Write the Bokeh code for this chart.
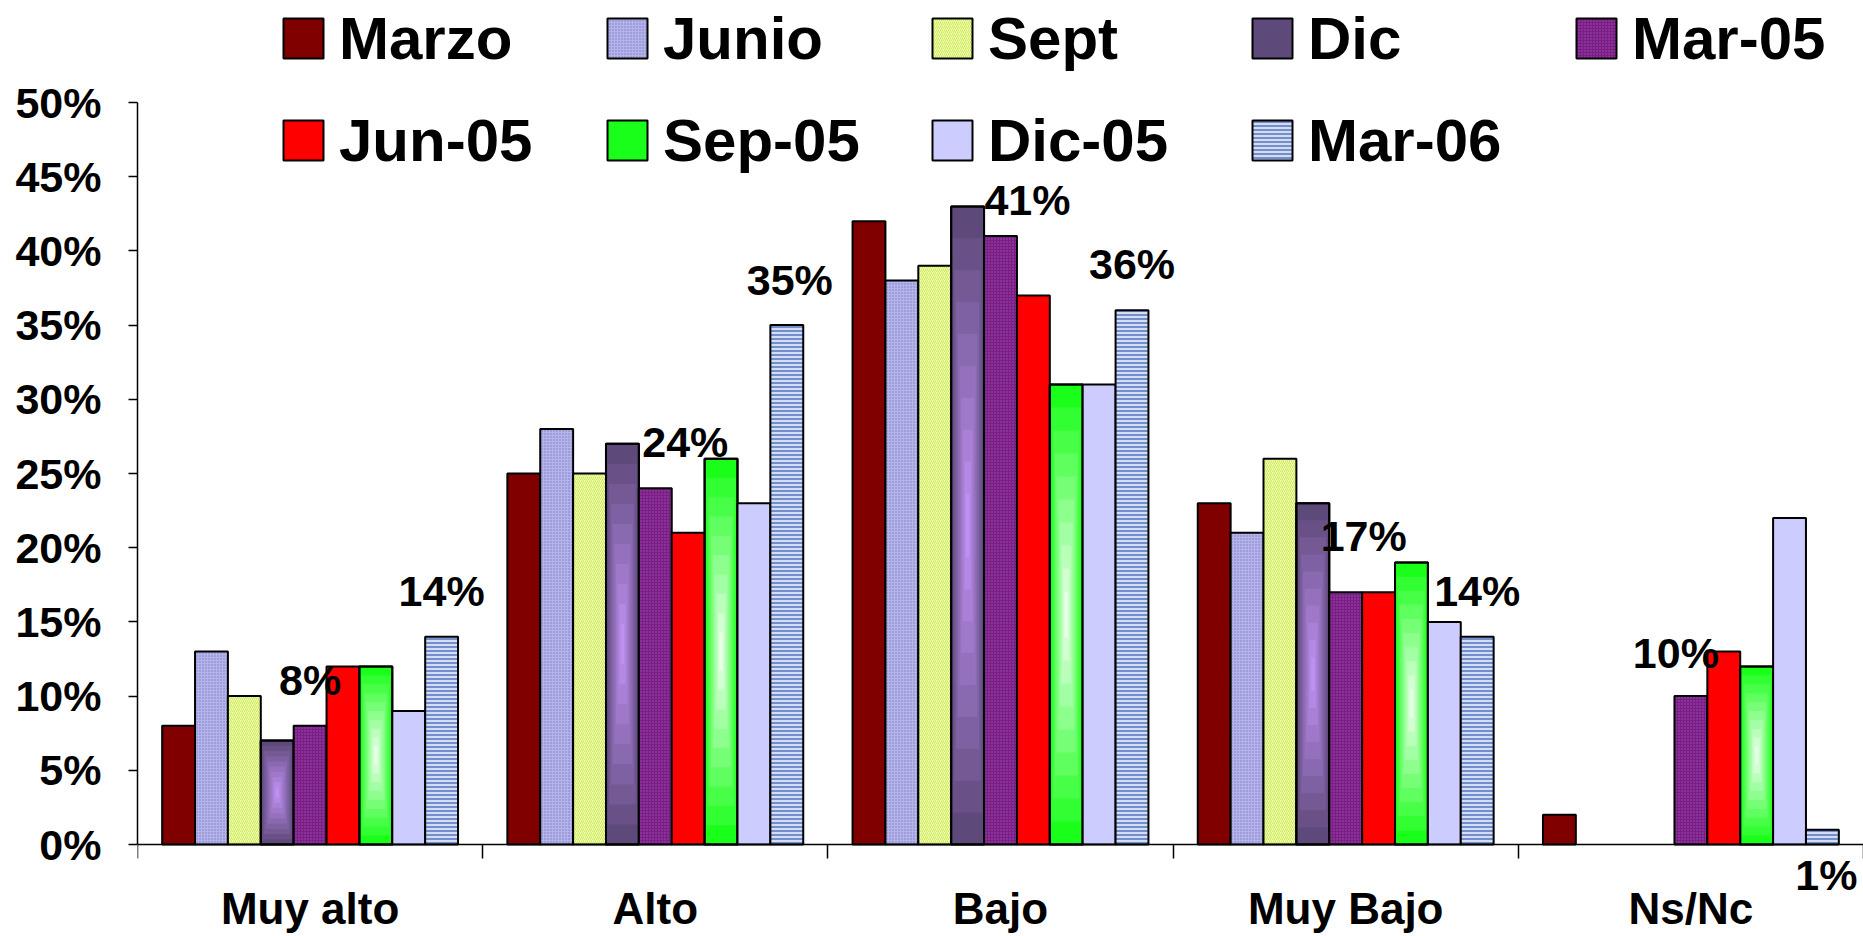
import numpy as np
from bokeh.plotting import figure
from bokeh.models import (ColumnDataSource, Range1d, LinearAxis, FixedTicker, PrintfTickFormatter,
                          Legend, LegendItem, LabelSet)
from bokeh.core.properties import value
from bokeh.embed import file_html
from bokeh.resources import INLINE

# ---------------- data ----------------
categories = ["Muy alto", "Alto", "Bajo", "Muy Bajo", "Ns/Nc"]
series_names = ["Marzo", "Junio", "Sept", "Dic", "Mar-05", "Jun-05", "Sep-05", "Dic-05", "Mar-06"]
marzo = [8, 25, 42, 23, 2]
junio = [13, 28, 38, 21, None]
sept = [10, 25, 39, 26, None]
dic = [7, 27, 43, 23, None]
mar05 = [8, 24, 41, 17, 10]
jun05 = [12, 21, 37, 17, 13]
sep05 = [12, 26, 31, 19, 12]
dic05 = [9, 23, 31, 15, 22]
mar06 = [14, 35, 36, 14, 1]
y_ticks = [0, 5, 10, 15, 20, 25, 30, 35, 40, 45, 50]
labelled_series = ["Mar-05", "Mar-06"]

series_values = [marzo, junio, sept, dic, mar05, jun05, sep05, dic05, mar06]

# ---------------- styles / layout ----------------
FONT = value("Liberation Sans")
styles = {
    "Marzo": dict(fill_color="#800000"),
    "Junio": dict(fill_color="#B4B4EA", hatch_pattern="dot", hatch_color="#7A7AC8", hatch_scale=3, hatch_weight=1),
    "Sept": dict(fill_color="#F4FFAE", hatch_pattern="right_diagonal_line", hatch_color="#C8E860", hatch_scale=4, hatch_weight=1),
    "Dic": dict(fill_color="#5E497B"),
    "Mar-05": dict(fill_color="#7A1E86", hatch_pattern="dot", hatch_color="#A050B4", hatch_scale=3, hatch_weight=1),
    "Jun-05": dict(fill_color="#FF0000"),
    "Sep-05": dict(fill_color="#1AFF1A"),
    "Dic-05": dict(fill_color="#CCCCFF"),
    "Mar-06": dict(fill_color="#D2DCF4", hatch_pattern="horizontal_line", hatch_color="#5274BE", hatch_scale=4, hatch_weight=1.5),
}
gradients = {"Dic": ("#5E497B", "#CA98FF"), "Sep-05": ("#1AFF1A", "#FFFFFF")}
label_dx = {"Mar-05": [0, 30, 27, 18, -15], "Mar-06": [0, 3, 0, 0, 4]}
label_dy = {"Mar-05": [46, 46, 36, 56, 43], "Mar-06": [46, 45, 46, 46, -45]}
legend_cols = [["Marzo", "Jun-05"], ["Junio", "Sep-05"], ["Sept", "Dic-05"], ["Dic", "Mar-06"], ["Mar-05"]]
legend_col_x = [141, 465, 790, 1110, 1434]   # px from frame left
legend_row_y = [38, 140]                      # px from canvas top (row centres)

FRAME_W, FRAME_H = 1726, 936
LEFT = 137
Y_TOP_PX, Y_ZERO_PX = 102, 844               # canvas px of 50% and 0%
px_per_unit = (Y_ZERO_PX - Y_TOP_PX) / 50.0
y_end = 50 + Y_TOP_PX / px_per_unit
y_start = -(FRAME_H - Y_ZERO_PX) / px_per_unit

n_series = len(series_names)
n_cat = len(categories)
bw = 1.0 / (n_series + 1.5)
cat_center = np.arange(n_cat) + 0.5


def mix(c1, c2, t):
    a = [int(c1[i:i + 2], 16) for i in (1, 3, 5)]
    b = [int(c2[i:i + 2], 16) for i in (1, 3, 5)]
    return "#%02x%02x%02x" % tuple(int(round(a[j] + (b[j] - a[j]) * t)) for j in range(3))


p = figure(x_range=Range1d(0, n_cat), y_range=Range1d(y_start, y_end),
           frame_width=FRAME_W, frame_height=FRAME_H,
           min_border_left=LEFT, min_border_top=0, min_border_right=0, min_border_bottom=0,
           x_axis_location=None, toolbar_location=None, output_backend="svg",
           background_fill_color="white", border_fill_color="white")
p.outline_line_color = None
p.xgrid.visible = False
p.ygrid.visible = False

renderers = {}
for i, name in enumerate(series_names):
    vals = np.array([np.nan if v is None else v for v in series_values[i]], dtype=float)
    off = (i - (n_series - 1) / 2) * bw
    xs = cat_center + off
    src = ColumnDataSource(dict(x=xs, cat=categories, val=vals))
    st = styles[name]
    r = p.vbar(x="x", top="val", bottom=0, width=bw, source=src,
               line_color="black", line_width=2, **st)
    renderers[name] = r
    if name in gradients:
        outer, inner = gradients[name]
        n = 10
        for k in range(1, n):
            t = k / n
            gsrc = ColumnDataSource(dict(x=xs, top=vals * (1 - t / 2), bottom=vals * t / 2))
            p.vbar(x="x", top="top", bottom="bottom", width=bw * (1 - t),
                   source=gsrc, fill_color=mix(outer, inner, t), line_color=None)
        p.vbar(x="x", top="val", bottom=0, width=bw, source=src,
               fill_color=None, line_color="black", line_width=2)
    if name in labelled_series:
        lsrc = ColumnDataSource(dict(x=xs, val=vals,
                                     txt=["%d%%" % v for v in vals],
                                     dx=label_dx[name], dy=label_dy[name]))
        p.add_layout(LabelSet(x="x", y="val", text="txt",
                              x_offset="dx", y_offset="dy", source=lsrc,
                              text_align="center", text_baseline="middle",
                              text_font=FONT, text_font_style="bold", text_font_size="43px",
                              text_color="black"))

# y axis
ya = p.yaxis[0]
ya.bounds = (0, 50)
ya.ticker = FixedTicker(ticks=y_ticks)
ya.formatter = PrintfTickFormatter(format="%d%%")
ya.major_label_text_font = "Liberation Sans"
ya.major_label_text_font_style = "bold"
ya.major_label_text_font_size = "43px"
ya.major_label_text_color = "black"
ya.major_tick_out = 9
ya.major_tick_in = 0
ya.minor_tick_out = 0
ya.minor_tick_in = 0
ya.major_label_standoff = 27
ya.axis_line_width = 1.5
ya.major_tick_line_width = 1.5

# x axis at y = 0: labels at category centres, ticks at category boundaries
xa = LinearAxis(fixed_location=0,
                ticker=FixedTicker(ticks=list(cat_center), minor_ticks=list(range(n_cat + 1))),
                major_label_overrides={float(c): lab for c, lab in zip(cat_center, categories)},
                major_tick_out=0, major_tick_in=0, minor_tick_out=14, minor_tick_in=0,
                minor_tick_line_width=1.5, minor_tick_line_color="black",
                axis_line_width=1.5, major_label_standoff=25,
                major_label_text_font="Liberation Sans", major_label_text_font_style="bold",
                major_label_text_font_size="44px", major_label_text_color="black")
p.add_layout(xa, "below")

# legends: one per item so that every entry sits where the reference has it
H_ITEM = 70
for cx, members in zip(legend_col_x, legend_cols):
    for row, m in enumerate(members):
        centre_fb = FRAME_H - legend_row_y[row]
        leg = Legend(items=[LegendItem(label=m, renderers=[renderers[m]])],
                     location=(cx, centre_fb - H_ITEM / 2), orientation="vertical",
                     glyph_width=50, glyph_height=50, label_height=H_ITEM, label_standoff=11,
                     spacing=0, padding=0, margin=0, border_line_color=None,
                     background_fill_alpha=0, label_text_font="Liberation Sans",
                     label_text_font_style="bold", label_text_font_size="60px",
                     label_text_color="black", click_policy="none")
        p.add_layout(leg, "center")

open("out.html", "w").write(file_html(p, INLINE))
